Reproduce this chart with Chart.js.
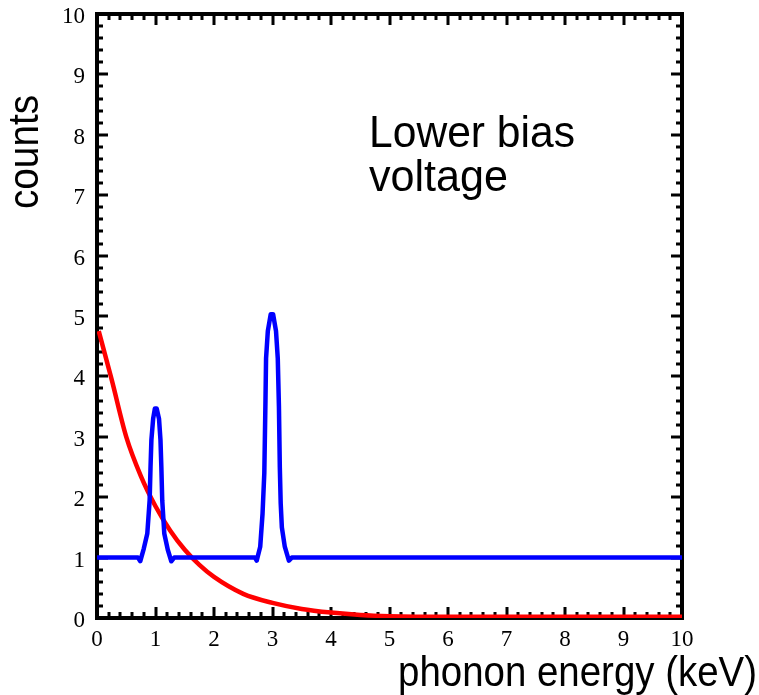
<!DOCTYPE html>
<html>
<head>
<meta charset="utf-8">
<script src="https://cdn.jsdelivr.net/npm/chart.js@4/dist/chart.umd.min.js"></script>
<style>
  html, body { margin: 0; padding: 0; background: #ffffff; }
  #wrap { width: 759px; height: 695px; }
</style>
</head>
<body>
<div id="wrap"><canvas id="c" width="759" height="695"></canvas></div>
<script>
// ---- data ----
const xTickLabels = ['0','1','2','3','4','5','6','7','8','9','10'];
const yTickLabels = ['0','1','2','3','4','5','6','7','8','9','10'];

const redX = [0.03, 0.25, 0.50, 0.75, 1.00, 1.25, 1.50, 1.75, 2.00, 2.50, 3.00, 3.50, 4.00, 4.50, 5.00, 6.00, 8.00, 10.0];
const redY = [4.75, 3.95, 3.00, 2.35, 1.85, 1.45, 1.13, 0.88, 0.68, 0.40, 0.25, 0.15, 0.09, 0.05, 0.03, 0.02, 0.02, 0.02];

const blueX = [0.00, 0.70, 0.74, 0.80, 0.86, 0.90, 0.915, 0.93, 0.96, 0.99, 1.02, 1.06, 1.085, 1.10, 1.115, 1.15, 1.21, 1.27, 1.32,
               2.70, 2.73, 2.79, 2.83, 2.86, 2.88, 2.89, 2.92, 2.97, 3.01, 3.06, 3.09, 3.11, 3.125, 3.14, 3.16, 3.21, 3.28, 3.33, 10.0];
const blueY = [1.00, 1.00, 0.94, 1.15, 1.40, 1.95, 2.50, 2.95, 3.30, 3.47, 3.47, 3.30, 2.95, 2.50, 1.95, 1.40, 1.13, 0.94, 1.00,
               1.00, 0.95, 1.18, 1.73, 2.40, 3.60, 4.30, 4.75, 5.03, 5.03, 4.75, 4.30, 3.50, 2.50, 1.90, 1.50, 1.18, 0.95, 1.00, 1.00];

const xTitle = 'phonon energy (keV)';
const yTitle = 'counts';
const noteLines = ['Lower bias', 'voltage'];

// ---- helpers ----
const pts = (xs, ys) => xs.map((x, i) => ({ x: x, y: ys[i] }));
const SANS = '"Liberation Sans", Arial, Helvetica, sans-serif';

function fitText(ctx, text, x, y, size, targetW, align) {
  ctx.save();
  ctx.font = size + 'px ' + SANS;
  const w = ctx.measureText(text).width;
  const s = targetW / w;
  ctx.translate(x, y);
  ctx.scale(s, 1);
  ctx.textAlign = align;
  ctx.textBaseline = 'alphabetic';
  ctx.fillStyle = '#000';
  ctx.fillText(text, 0, 0);
  ctx.restore();
}

const framePlugin = {
  id: 'frame',
  beforeDatasetsDraw(chart) {
    const { ctx, chartArea: a, scales } = chart;
    const xs = scales.x, ys = scales.y;
    ctx.save();
    ctx.fillStyle = '#000';
    for (let k = 0; k <= 50; k++) {
      const v = k / 5;
      const major = (k % 5 === 0);
      const len = major ? 11 : 6;
      const px = Math.round(xs.getPixelForValue(v));
      const py = Math.round(ys.getPixelForValue(v));
      ctx.fillRect(px - 1.5, a.bottom - len, 3, len);
      ctx.fillRect(px - 1.5, a.top, 3, len);
      ctx.fillRect(a.left, py - 1.5, len, 3);
      ctx.fillRect(a.right - len, py - 1.5, len, 3);
    }
    ctx.strokeStyle = '#000';
    ctx.lineWidth = 4;
    ctx.strokeRect(a.left, a.top, a.right - a.left, a.bottom - a.top);
    ctx.restore();
  },
  afterDraw(chart) {
    const { ctx } = chart;
    fitText(ctx, noteLines[0], 369, 147, 45, 206, 'left');
    fitText(ctx, noteLines[1], 369, 191, 45, 139, 'left');
    fitText(ctx, xTitle, 757, 686, 42, 359, 'right');
    ctx.save();
    ctx.translate(38, 152);
    ctx.rotate(-Math.PI / 2);
    fitText(ctx, yTitle, 0, 0, 42, 114, 'center');
    ctx.restore();
  }
};

const tickFont = { family: '"Liberation Serif", "Times New Roman", serif', size: 23 };

new Chart(document.getElementById('c'), {
  type: 'scatter',
  data: {
    datasets: [
      { label: 'blue', data: pts(blueX, blueY), showLine: true, borderColor: '#0000ff', borderWidth: 4.5,
        pointRadius: 0, tension: 0, borderJoinStyle: 'round', borderCapStyle: 'round', fill: false },
      { label: 'red', data: pts(redX, redY), showLine: true, borderColor: '#ff0000', borderWidth: 4.5,
        pointRadius: 0, cubicInterpolationMode: 'monotone', fill: false }
    ]
  },
  options: {
    responsive: false,
    animation: false,
    devicePixelRatio: 1,
    layout: { padding: { left: 0, top: 14, right: 77, bottom: 0 } },
    plugins: { legend: { display: false }, tooltip: { enabled: false } },
    scales: {
      x: {
        type: 'linear', min: 0, max: 10,
        grid: { display: false, drawTicks: false },
        border: { display: false },
        ticks: { stepSize: 1, color: '#000', font: tickFont, padding: 8, maxRotation: 0,
                 callback: (v) => xTickLabels[v] },
        afterFit(s) { s.height = 77; s.paddingLeft = 0; s.paddingRight = 0; }
      },
      y: {
        type: 'linear', min: 0, max: 10,
        grid: { display: false, drawTicks: false },
        border: { display: false },
        ticks: { stepSize: 1, color: '#000', font: tickFont, padding: 12, labelOffset: 3,
                 callback: (v) => yTickLabels[v] },
        afterFit(s) { s.width = 97; s.paddingTop = 0; s.paddingBottom = 0; }
      }
    }
  },
  plugins: [framePlugin]
});
</script>
</body>
</html>
